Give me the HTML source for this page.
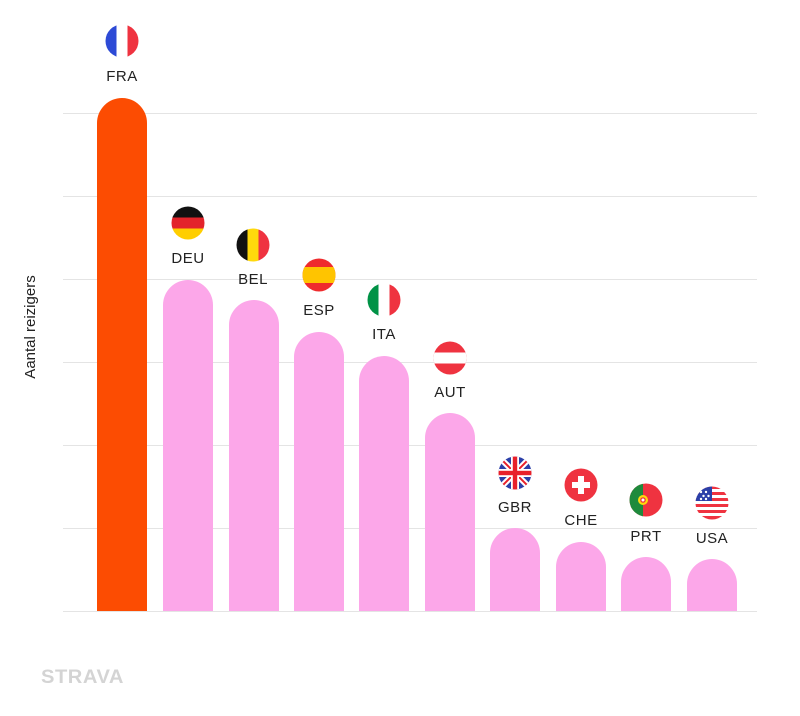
<!DOCTYPE html>
<html><head><meta charset="utf-8"><style>
body{margin:0;background:#fff;}
svg text{font-family:"Liberation Sans",sans-serif;}
</style></head><body>
<svg width="800" height="711" viewBox="0 0 800 711" xmlns="http://www.w3.org/2000/svg">
<defs>
<clipPath id="c"><circle cx="0" cy="0" r="16.5"/></clipPath>
</defs>
<g stroke="#e4e4e4" stroke-width="1">
<line x1="63" x2="757" y1="113.5" y2="113.5"/>
<line x1="63" x2="757" y1="196.5" y2="196.5"/>
<line x1="63" x2="757" y1="279.5" y2="279.5"/>
<line x1="63" x2="757" y1="362.5" y2="362.5"/>
<line x1="63" x2="757" y1="445.5" y2="445.5"/>
<line x1="63" x2="757" y1="528.5" y2="528.5"/>
<line x1="63" x2="757" y1="611.5" y2="611.5"/>
</g>
<text transform="translate(35,327) rotate(-90)" text-anchor="middle" font-size="15" fill="#222">Aantal reizigers</text>
<g>
<path d="M97,611V123a25,25 0 0 1 50,0V611Z" fill="#fc4c02"/>
<path d="M163,611V305a25,25 0 0 1 50,0V611Z" fill="#fca7e9"/>
<path d="M229,611V325a25,25 0 0 1 50,0V611Z" fill="#fca7e9"/>
<path d="M294,611V357a25,25 0 0 1 50,0V611Z" fill="#fca7e9"/>
<path d="M359,611V381a25,25 0 0 1 50,0V611Z" fill="#fca7e9"/>
<path d="M425,611V438a25,25 0 0 1 50,0V611Z" fill="#fca7e9"/>
<path d="M490,611V553a25,25 0 0 1 50,0V611Z" fill="#fca7e9"/>
<path d="M556,611V567a25,25 0 0 1 50,0V611Z" fill="#fca7e9"/>
<path d="M621,611V582a25,25 0 0 1 50,0V611Z" fill="#fca7e9"/>
<path d="M687,611V584a25,25 0 0 1 50,0V611Z" fill="#fca7e9"/>
</g>
<g font-size="15" fill="#222" text-anchor="middle" letter-spacing="0.5">
<text x="122" y="81">FRA</text>
<text x="188" y="263">DEU</text>
<text x="253" y="284">BEL</text>
<text x="319" y="315">ESP</text>
<text x="384" y="339">ITA</text>
<text x="450" y="397">AUT</text>
<text x="515" y="512">GBR</text>
<text x="581" y="525">CHE</text>
<text x="646" y="541">PRT</text>
<text x="712" y="543">USA</text>
</g>
<g transform="translate(122,41)" clip-path="url(#c)">
<rect x="-17" y="-17" width="12" height="34" fill="#2d4ad6"/><rect x="-5.5" y="-17" width="11" height="34" fill="#fff"/><rect x="5.5" y="-17" width="12" height="34" fill="#ef3340"/>
</g>
<g transform="translate(188,223)" clip-path="url(#c)">
<rect x="-17" y="-17" width="34" height="12" fill="#111"/><rect x="-17" y="-5.5" width="34" height="11" fill="#e3242b"/><rect x="-17" y="5.5" width="34" height="12" fill="#ffce00"/>
</g>
<g transform="translate(253,245)" clip-path="url(#c)">
<rect x="-17" y="-17" width="12" height="34" fill="#111"/><rect x="-5.5" y="-17" width="11" height="34" fill="#ffd90c"/><rect x="5.5" y="-17" width="12" height="34" fill="#ef3340"/>
</g>
<g transform="translate(319,275)" clip-path="url(#c)">
<rect x="-17" y="-17" width="34" height="34" fill="#ef2b2d"/><rect x="-17" y="-8" width="34" height="16" fill="#ffc400"/>
</g>
<g transform="translate(384,300)" clip-path="url(#c)">
<rect x="-17" y="-17" width="12" height="34" fill="#009246"/><rect x="-5.5" y="-17" width="11" height="34" fill="#fff"/><rect x="5.5" y="-17" width="12" height="34" fill="#ef3340"/>
</g>
<g transform="translate(450,358)" clip-path="url(#c)">
<rect x="-17" y="-17" width="34" height="34" fill="#ef3340"/><rect x="-17" y="-5.5" width="34" height="11" fill="#fff"/>
</g>
<g transform="translate(515,473)" clip-path="url(#c)">
<rect x="-17" y="-17" width="34" height="34" fill="#2b3fa8"/>
<path d="M-17,-17L17,17M17,-17L-17,17" stroke="#fff" stroke-width="6"/>
<path d="M-17,-17L17,17M17,-17L-17,17" stroke="#e8202a" stroke-width="2"/>
<rect x="-17" y="-4" width="34" height="8" fill="#fff"/><rect x="-4" y="-17" width="8" height="34" fill="#fff"/>
<rect x="-17" y="-2.2" width="34" height="4.4" fill="#e8202a"/><rect x="-2.2" y="-17" width="4.4" height="34" fill="#e8202a"/>
</g>
<g transform="translate(581,485)" clip-path="url(#c)">
<rect x="-17" y="-17" width="34" height="34" fill="#ef3340"/><rect x="-9" y="-3" width="18" height="6" fill="#fff"/><rect x="-3" y="-9" width="6" height="18" fill="#fff"/>
</g>
<g transform="translate(646,500)" clip-path="url(#c)">
<rect x="-17" y="-17" width="34" height="34" fill="#ef3340"/><rect x="-17" y="-17" width="14" height="34" fill="#1e8a3c"/>
<circle cx="-3" cy="0" r="5" fill="#ffd90c"/><circle cx="-3" cy="0" r="2.8" fill="#ef3340"/><circle cx="-3" cy="0" r="1.5" fill="#fff"/>
</g>
<g transform="translate(712,503)" clip-path="url(#c)">
<rect x="-17" y="-17" width="34" height="34" fill="#fff"/>
<rect x="-17" y="-17" width="34" height="3" fill="#ef3340"/><rect x="-17" y="-11" width="34" height="3" fill="#ef3340"/><rect x="-17" y="-5" width="34" height="3" fill="#ef3340"/><rect x="-17" y="1" width="34" height="3" fill="#ef3340"/><rect x="-17" y="7" width="34" height="3" fill="#ef3340"/><rect x="-17" y="13" width="34" height="4" fill="#ef3340"/>
<rect x="-17" y="-17" width="17" height="15" fill="#2b3fa8"/>
<g fill="#fff"><circle cx="-11" cy="-11" r="1.2"/><circle cx="-6" cy="-11" r="1.2"/><circle cx="-8.5" cy="-7" r="1.2"/><circle cx="-3.5" cy="-7" r="1.2"/><circle cx="-11" cy="-4" r="1.2"/><circle cx="-6" cy="-4" r="1.2"/></g>
</g>
<text x="41" y="683" font-size="19" font-weight="900" fill="#d4d4d4" letter-spacing="0.5" textLength="83" lengthAdjust="spacingAndGlyphs">STRAVA</text>
</svg>
</body></html>
